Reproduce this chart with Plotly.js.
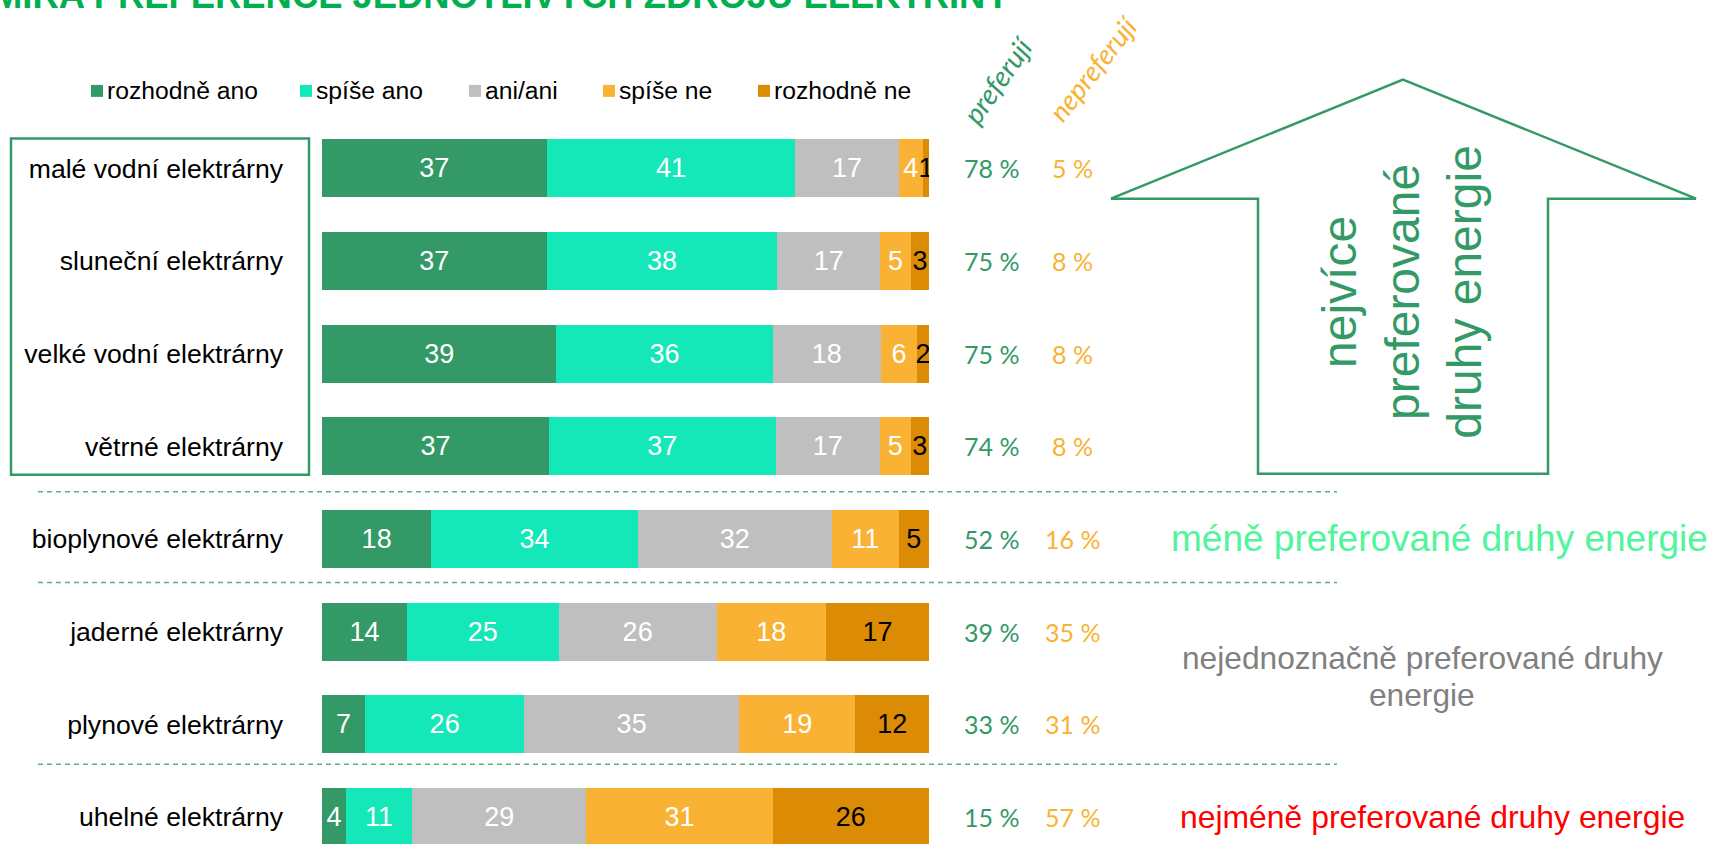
<!DOCTYPE html>
<html>
<head>
<meta charset="utf-8">
<script src="https://cdn.plot.ly/plotly-3.0.1.min.js"></script>
<style>
html,body{margin:0;padding:0;background:#fff;overflow:hidden;}
#chart{width:1715px;height:844px;}
</style>
</head>
<body>
<div id="chart"></div>
<script>
// ---- data ----
const categories = ['malé vodní elektrárny','sluneční elektrárny','velké vodní elektrárny','větrné elektrárny','bioplynové elektrárny','jaderné elektrárny','plynové elektrárny','uhelné elektrárny'];
const seriesNames = ['rozhodně ano','spíše ano','ani/ani','spíše ne','rozhodně ne'];
const rozhodneAno = [37,37,39,37,18,14,7,4];
const spiseAno    = [41,38,36,37,34,25,26,11];
const aniAni      = [17,17,18,17,32,26,35,29];
const spiseNe     = [4,5,6,5,11,18,19,31];
const rozhodneNe  = [1,3,2,3,5,17,12,26];
const preferuji   = [78,75,75,74,52,39,33,15];
const nepreferuji = [5,8,8,8,16,35,31,57];
const titleText = 'MÍRA PREFERENCE JEDNOTLIVÝCH ZDROJŮ ELEKTŘINY';
const arrowText = 'nejvíce<br>preferované<br>druhy energie';
const lessText = 'méně preferované druhy energie';
const ambiguousLines = ['nejednoznačně preferované druhy','energie'];
const leastText = 'nejméně preferované druhy energie';
const headPref = 'preferují';
const headNonpref = 'nepreferují';

// ---- styles ----
const seriesValues = [rozhodneAno, spiseAno, aniAni, spiseNe, rozhodneNe];
const colors = ['#339966','#14E8B8','#BFBFBF','#F9B233','#DC8C04'];
const textColors = ['#ffffff','#ffffff','#ffffff','#ffffff','#000000'];
const ARIAL = 'Liberation Sans, Arial, sans-serif';
const CAL = 'Lato, Open Sans, sans-serif';
const GREEN = '#339966';
const ORANGE = '#F9B233';

const W = 1715, H = 844;
const M = {l:322, r:786, t:122.4, b:0};
const PW = W - M.l - M.r, PH = H - M.t - M.b;
const px = x => (x - M.l) / PW;
const py = y => (H - M.b - y) / PH;

const traces = seriesValues.map((vals, i) => ({
  type: 'bar', orientation: 'h',
  name: seriesNames[i],
  x: vals, y: categories,
  text: vals.map(String), texttemplate: '%{text}',
  textposition: 'inside', insidetextanchor: 'middle', textangle: 0,
  insidetextfont: {family: ARIAL, size: 27, color: textColors[i]},
  marker: {color: colors[i], line: {width: 0}},
  hoverinfo: 'skip', showlegend: false
}));

const annotations = [];
const shapes = [];

// title (clipped at top, as in the source)
annotations.push({xref:'paper', yref:'paper', x: px(1012), y: py(18), xanchor:'right', yanchor:'bottom',
  text:'<b>'+titleText+'</b>', showarrow:false, font:{family:ARIAL, size:36.4, color:'#00B050'}});

// custom legend
const legendSquareX = [91, 300, 469, 603, 758];
const legendY = 91.3;
seriesNames.forEach((n, i) => {
  shapes.push({type:'rect', xref:'paper', yref:'paper', x0: px(legendSquareX[i]), x1: px(legendSquareX[i]+12),
    y0: py(legendY+6), y1: py(legendY-6), fillcolor: colors[i], line:{width:0}});
  annotations.push({xref:'paper', yref:'paper', x: px(legendSquareX[i]+14), y: py(legendY), xanchor:'left', yanchor:'middle',
    text:n, showarrow:false, font:{family:ARIAL, size:24.7, color:'#000'}});
});

// column headers
annotations.push({xref:'paper', yref:'paper', x: px(997), y: py(80), xanchor:'center', yanchor:'middle', textangle:-55,
  text:headPref, showarrow:false, font:{family:CAL, size:28, color:GREEN, style:'italic'}});
annotations.push({xref:'paper', yref:'paper', x: px(1093), y: py(69), xanchor:'center', yanchor:'middle', textangle:-52,
  text:headNonpref, showarrow:false, font:{family:CAL, size:27.5, color:ORANGE, style:'italic'}});

// percent columns
categories.forEach((c, i) => {
  annotations.push({xref:'paper', yref:'y', x: px(991.5), y: c, xanchor:'center', yanchor:'middle',
    text: preferuji[i] + ' %', showarrow:false, font:{family:CAL, size:25, color:GREEN}});
  annotations.push({xref:'paper', yref:'y', x: px(1072.5), y: c, xanchor:'center', yanchor:'middle',
    text: nepreferuji[i] + ' %', showarrow:false, font:{family:CAL, size:25, color:ORANGE}});
});

// group texts
annotations.push({xref:'paper', yref:'paper', x: px(1402), y: py(292), xanchor:'center', yanchor:'middle', textangle:-90,
  text: arrowText, showarrow:false, align:'center', font:{family:ARIAL, size:48, color:GREEN}});
annotations.push({xref:'paper', yref:'y', x: px(1439), y: categories[4], xanchor:'center', yanchor:'middle',
  text: lessText, showarrow:false, font:{family:ARIAL, size:37, color:'#50F59C'}});
annotations.push({xref:'paper', yref:'paper', x: px(1422), y: py(658), xanchor:'center', yanchor:'middle',
  text: ambiguousLines[0], showarrow:false, font:{family:ARIAL, size:31.7, color:'#808080'}});
annotations.push({xref:'paper', yref:'paper', x: px(1422), y: py(695), xanchor:'center', yanchor:'middle',
  text: ambiguousLines[1], showarrow:false, font:{family:ARIAL, size:31.7, color:'#808080'}});
annotations.push({xref:'paper', yref:'y', x: px(1432), y: categories[7], xanchor:'center', yanchor:'middle',
  text: leastText, showarrow:false, font:{family:ARIAL, size:31.9, color:'#FF0000'}});

// frame around top group
shapes.push({type:'rect', xref:'paper', yref:'paper', x0: px(11), x1: px(309), y0: py(475), y1: py(139),
  line:{color:GREEN, width:2.5}, fillcolor:'rgba(0,0,0,0)'});

// dashed separators
[3.49, 4.47, 6.43].forEach(yv => {
  shapes.push({type:'line', xref:'paper', yref:'y', x0: px(38), x1: px(1337), y0: yv, y1: yv,
    line:{color:'#5BB08A', width:1.5, dash:'5px,4px'}});
});

// arrow outline
const pts = [[1403,80],[1696,199],[1548,199],[1548,474],[1258,474],[1258,199],[1111,199]];
shapes.push({type:'path', xref:'paper', yref:'paper',
  path: 'M' + pts.map(p => px(p[0]).toFixed(5) + ',' + py(p[1]).toFixed(5)).join(' L') + ' Z',
  line:{color:GREEN, width:2.5}, fillcolor:'rgba(0,0,0,0)'});

const layout = {
  width: W, height: H,
  margin: M,
  paper_bgcolor:'#ffffff', plot_bgcolor:'rgba(0,0,0,0)',
  barmode:'stack', barnorm:'percent', bargap:0.377,
  uniformtext:{mode:'show', minsize:27},
  showlegend:false,
  xaxis:{range:[0,100], visible:false, fixedrange:true},
  yaxis:{type:'category', range:[7.2917,-0.5], showgrid:false, zeroline:false, showline:false,
    ticks:'', ticklabelstandoff:38, automargin:false,
    tickfont:{family:ARIAL, size:26.6, color:'#000'}},
  annotations: annotations,
  shapes: shapes,
  font:{family:ARIAL}
};

Plotly.newPlot('chart', traces, layout, {staticPlot:true, displayModeBar:false});
</script>
</body>
</html>
